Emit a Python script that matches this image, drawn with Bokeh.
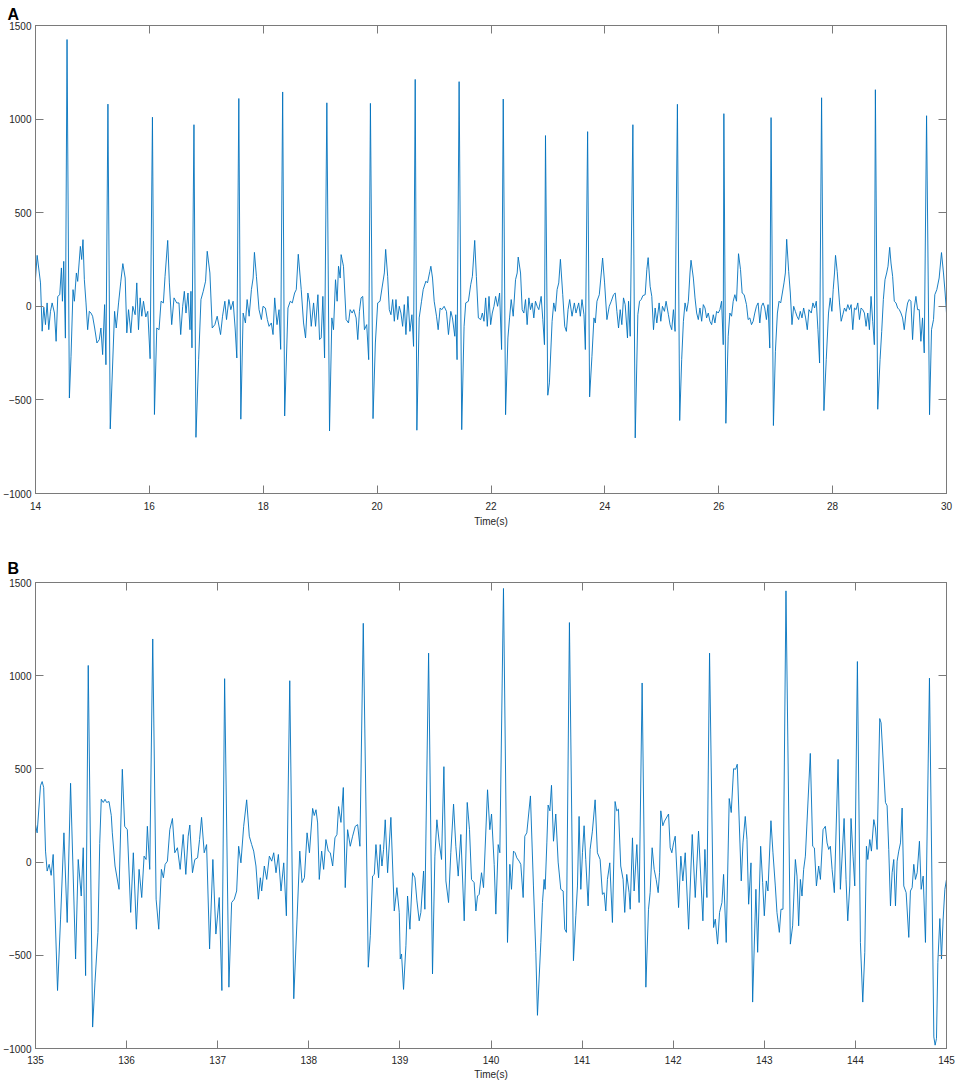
from bokeh.plotting import figure
from bokeh.models import LinearAxis, Range1d, FixedTicker, CustomLabelingPolicy
from bokeh.layouts import column
from bokeh.embed import file_html
from bokeh.resources import INLINE

# ---------------- Panel A data (time in s, amplitude) ----------------
time_a = [
    14.000, 14.029, 14.088, 14.117, 14.146, 14.175, 14.204, 14.233, 14.263, 14.292,
    14.333, 14.362, 14.391, 14.426, 14.455, 14.473, 14.496, 14.525, 14.554, 14.595,
    14.624, 14.659, 14.683, 14.718, 14.741, 14.788, 14.811, 14.834, 14.858, 14.887,
    14.916, 14.945, 14.974, 15.003, 15.039, 15.079, 15.120, 15.149, 15.179, 15.214,
    15.237, 15.272, 15.313, 15.389, 15.418, 15.459, 15.499, 15.534, 15.575, 15.604,
    15.634, 15.674, 15.709, 15.750, 15.779, 15.809, 15.838, 15.867, 15.896, 15.937,
    15.972, 16.013, 16.054, 16.089, 16.130, 16.170, 16.205, 16.246, 16.275, 16.322,
    16.351, 16.392, 16.433, 16.480, 16.520, 16.550, 16.585, 16.614, 16.643, 16.678,
    16.713, 16.730, 16.748, 16.783, 16.818, 16.865, 16.906, 16.946, 16.987, 17.016,
    17.063, 17.104, 17.150, 17.191, 17.250, 17.285, 17.326, 17.355, 17.396, 17.431,
    17.471, 17.506, 17.536, 17.571, 17.606, 17.647, 17.687, 17.717, 17.752, 17.792,
    17.822, 17.845, 17.880, 17.926, 17.967, 17.996, 18.037, 18.072, 18.102, 18.142,
    18.172, 18.201, 18.242, 18.277, 18.306, 18.341, 18.376, 18.434, 18.475, 18.510,
    18.551, 18.580, 18.615, 18.667, 18.708, 18.743, 18.784,
    18.814, 18.843, 18.884, 18.919, 18.960, 18.989, 19.018, 19.047, 19.077, 19.117,
    19.164, 19.205, 19.234, 19.269, 19.298, 19.322, 19.351, 19.368, 19.409, 19.456,
    19.497, 19.526, 19.561, 19.590, 19.631, 19.660, 19.689, 19.718, 19.747, 19.777,
    19.817, 19.852, 19.882, 19.928, 19.969, 20.010, 20.051, 20.086, 20.127, 20.150,
    20.185, 20.214, 20.243, 20.273, 20.302, 20.331, 20.360, 20.389, 20.418, 20.448,
    20.477, 20.506, 20.541, 20.576, 20.611, 20.640, 20.669, 20.698, 20.739, 20.780,
    20.809, 20.856, 20.885, 20.926, 20.944, 20.973, 21.002, 21.043, 21.072, 21.107,
    21.136, 21.177, 21.218, 21.253, 21.294, 21.323, 21.364, 21.381, 21.404, 21.440,
    21.486, 21.527, 21.556, 21.603, 21.644, 21.673, 21.714, 21.743, 21.778, 21.819,
    21.848, 21.877, 21.906, 21.935, 21.965, 21.994, 22.023, 22.052, 22.081, 22.116,
    22.151, 22.186, 22.215, 22.256, 22.297, 22.326, 22.355, 22.390, 22.431, 22.460,
    22.478, 22.519, 22.548, 22.577, 22.606, 22.635, 22.665, 22.694, 22.723, 22.752,
    22.781, 22.811, 22.840, 22.881, 22.910, 22.939, 22.957, 22.997, 23.026, 23.073,
    23.102, 23.131, 23.161, 23.190, 23.219, 23.260, 23.295, 23.324, 23.353, 23.382,
    23.423, 23.464, 23.493, 23.540, 23.569, 23.598, 23.633, 23.657, 23.697, 23.732,
    23.773, 23.808, 23.832, 23.861, 23.902, 23.937, 23.960, 23.995, 24.036, 24.077,
    24.112, 24.152, 24.182, 24.211, 24.240, 24.269, 24.298, 24.327, 24.357, 24.397,
    24.416, 24.445, 24.492, 24.533, 24.579, 24.609, 24.638, 24.667, 24.708, 24.737,
    24.760, 24.795, 24.824, 24.854, 24.883, 24.912, 24.953, 24.982, 25.011, 25.046,
    25.075, 25.116, 25.145, 25.174, 25.204, 25.233, 25.274, 25.314, 25.349, 25.379,
    25.408, 25.437, 25.466, 25.495, 25.513, 25.554, 25.583, 25.612, 25.641, 25.670,
    25.700, 25.729, 25.758, 25.787, 25.816, 25.845, 25.875, 25.904, 25.933, 25.962,
    25.991, 26.020, 26.050, 26.079, 26.090, 26.125, 26.166, 26.195, 26.225, 26.254,
    26.283, 26.312, 26.347, 26.382, 26.411, 26.446, 26.487, 26.516, 26.546, 26.575,
    26.604, 26.633, 26.662, 26.691, 26.721, 26.750, 26.779, 26.808, 26.837, 26.866,
    26.896, 26.919, 26.960, 26.995, 27.030, 27.059, 27.088, 27.117, 27.146, 27.170,
    27.193, 27.228, 27.257, 27.286, 27.316, 27.345, 27.374, 27.403, 27.432, 27.462,
    27.491, 27.526, 27.555, 27.584, 27.625, 27.654, 27.683, 27.713, 27.742, 27.771,
    27.806, 27.847, 27.888, 27.928, 27.958, 27.987, 28.010, 28.033, 28.051, 28.080,
    28.121, 28.150, 28.179, 28.208, 28.237, 28.267, 28.296, 28.325, 28.354, 28.383,
    28.413, 28.442, 28.471, 28.500, 28.529, 28.558, 28.588, 28.617, 28.646, 28.675,
    28.704, 28.733, 28.751, 28.792, 28.833, 28.862, 28.891, 28.920, 28.949, 28.973,
    29.002, 29.025, 29.054, 29.083, 29.113, 29.142, 29.171, 29.200, 29.229, 29.258,
    29.288, 29.317, 29.346, 29.375, 29.404, 29.434, 29.463, 29.492, 29.521, 29.550,
    29.579, 29.609, 29.650, 29.702, 29.737, 29.772, 29.795, 29.830, 29.871, 29.912,
    29.947, 29.976, 30.000,
]
value_a = [
    150, 272, 125, -133, -5, -98, 18, -125, -27, 18,
    -36, -187, 53, 62, 205, 27, 240, -170, 1425, -490,
    -267, 89, 27, 178, 133, 320, 250, 356, 142, 18,
    -125, -27, -36, -53, -116, -196, -178, -116, -258, 9,
    -312, 1080, -655, -27, -116, 18, 134, 228, 151, -142,
    -18, -142, 0, -45, 125, -125, 45, -53, 27, -57,
    -27, -280, 1010, -578, -116, -125, 27, 18, 160, 352,
    125, -98, 45, 18, 18, -151, 0, 80, -36, 71,
    -125, 80, -222, 970, -700, -285, 36, 80, 134, 294,
    178, -116, -98, -53, -151, -53, 27, -71, 36, -18,
    27, -116, -276, 1110, -603, -36, -89, 36, -53, 89,
    151, 288, 160, -18, -71, 0, -9, -71, -107, -89,
    -151, 45, -98, -18, -230, 1145, -586, -9, 27, 18,
    71, 89, 278, 89, -89, -169, 71,
    18, -107, 18, -107, 62, -178, -169, 53, -276, 1087,
    -666, -62, -125, 142, 27, 214, 151, 276, 214, -71,
    -89, -18, -36, -18, -62, -178, -27, 45, 53, -125,
    -98, -285, 1084, -600, -196, 18, 27, 98, 178, 304,
    160, -18, -45, 36, -80, 36, -71, 0, -36, -107,
    9, -151, 53, -134, -45, -214, 1212, -662, -62, 27,
    89, 134, 125, 187, 214, 151, 27, -53, -125, -9,
    -18, 0, -27, -151, -27, -62, -160, -45, -285, 1200,
    -659, -107, 18, 27, 116, 160, 352, 160, -62, -71,
    -36, -80, 45, -107, 53, -98, -36, 0, 53, 0,
    71, -231, 1107, -579, -169, -62, 36, -53, 142, 178,
    263, 178, -18, -36, 36, -98, 45, -18, 18, -62,
    27, 0, -18, 53, -71, -205, 912, -475, -409, -80,
    18, -27, 89, 125, 251, 62, -107, -134, -18, 36,
    -53, 18, -36, 18, -53, 36, -45, -231, 933, -484,
    -267, -62, -89, 27, 62, 178, 258, 125, -71, 0,
    27, 62, 71, -27, -116, -18, -98, 45, 9, -169,
    27, -160, 970, -703, -45, 27, 36, 57, 62, 196,
    260, 107, 53, -125, -9, -89, 18, -80, 0, -27,
    27, -45, -98, -125, -18, -134, 1079, -610, -285, -80,
    18, -27, 27, 178, 246, 151, 45, -36, -71, -9,
    -80, 9, -9, -62, -36, -80, -98, -45, -89, -27,
    -36, -18, 27, -205, 1029, -625, -160, -36, -53, 27,
    62, 27, 281, 196, 71, 62, 9, -71, -62, -98,
    -80, -36, 0, 18, -89, 0, 18, -9, -71, 9,
    -223, 1008, -637, -240, -36, 27, 18, 71, 125, 178,
    358, 187, 71, -98, 0, -27, -53, -71, -27, -62,
    -9, -62, -125, -18, -36, 18, -9, 27, -125, -303,
    1114, -557, -285, -36, 45, -27, 89, 178, 272, 187,
    18, -80, -45, -9, -27, 9, -18, 9, -125, -9,
    -18, 18, -71, -9, -18, -36, -107, -36, -125, 53,
    -80, -205, 1157, -550, -285, -134, 36, 142, 178, 214,
    315, 231, 160, 27, 18, -9, -18, -36, -62, -125,
    -36, 18, 36, 27, -178, -9, 53, -18, -18, -187,
    -62, -249, 1018, -579, -125, -71, 62, 89, 151, 287,
    178, 71, -36,
]

# ---------------- Panel B data (time in s, amplitude) ----------------
time_b = [
    135.000, 135.018, 135.055, 135.073, 135.090, 135.110, 135.128, 135.150, 135.172, 135.194,
    135.242, 135.275, 135.312, 135.348, 135.385, 135.440, 135.469, 135.502, 135.524, 135.550,
    135.579, 135.627, 135.653, 135.686, 135.705, 135.722, 135.744, 135.763, 135.781, 135.807,
    135.832, 135.843, 135.873, 135.917, 135.953, 135.979, 136.008, 136.045, 136.074, 136.107,
    136.137, 136.166, 136.192, 136.214, 136.228, 136.254, 136.287, 136.324, 136.353, 136.382,
    136.404, 136.423, 136.448, 136.474, 136.503, 136.529, 136.558, 136.588, 136.621, 136.650,
    136.676, 136.694, 136.723, 136.749, 136.779, 136.801, 136.823, 136.852, 136.878, 136.911,
    136.947, 136.980, 137.017, 137.046, 137.076, 137.123, 137.153, 137.182, 137.208, 137.230,
    137.255, 137.285, 137.318, 137.347, 137.373, 137.395, 137.420, 137.446, 137.468, 137.483,
    137.512, 137.538, 137.567, 137.593, 137.615, 137.640, 137.666, 137.695, 137.725, 137.754,
    137.791, 137.835, 137.871, 137.901, 137.926, 137.952, 137.981, 138.007,
    138.042, 138.060, 138.079, 138.097, 138.115, 138.141, 138.163, 138.188, 138.214, 138.236,
    138.262, 138.287, 138.309, 138.327, 138.353, 138.379, 138.400, 138.426, 138.455, 138.481,
    138.510, 138.536, 138.561, 138.598, 138.653, 138.675, 138.700, 138.719, 138.737, 138.766,
    138.784, 138.803, 138.821, 138.839, 138.865, 138.901, 138.938, 138.967, 138.993, 139.004,
    139.018, 139.040, 139.066, 139.084, 139.110, 139.139, 139.165, 139.187, 139.212, 139.230,
    139.260, 139.274, 139.315, 139.358, 139.384, 139.406, 139.432, 139.457, 139.483, 139.505,
    139.534, 139.559, 139.589, 139.614, 139.640, 139.669, 139.706, 139.739, 139.764, 139.786,
    139.815, 139.834, 139.852, 139.870, 139.896, 139.918, 139.962, 139.987, 140.006, 140.035,
    140.053, 140.079, 140.097, 140.137, 140.181, 140.207, 140.225, 140.247, 140.265, 140.283,
    140.309, 140.327, 140.353, 140.371, 140.393, 140.433, 140.466, 140.492, 140.510, 140.528,
    140.547, 140.565, 140.583, 140.594, 140.613, 140.627, 140.646, 140.664, 140.686, 140.711,
    140.737, 140.766, 140.792, 140.810, 140.828, 140.861, 140.905, 140.931, 140.949, 140.967,
    140.986, 141.004, 141.022, 141.040, 141.066, 141.088, 141.113, 141.143, 141.168, 141.198,
    141.223, 141.242, 141.260, 141.278, 141.304, 141.333, 141.362, 141.380, 141.399, 141.424,
    141.450, 141.468, 141.490, 141.516,
    141.528, 141.553, 141.571, 141.601, 141.626, 141.659, 141.700, 141.729, 141.747, 141.769,
    141.791, 141.813, 141.835, 141.850, 141.864, 141.886, 141.905, 141.949, 141.967, 141.985,
    142.004, 142.022, 142.059, 142.084, 142.106, 142.132, 142.169, 142.209, 142.242, 142.278,
    142.326, 142.348, 142.370, 142.399, 142.443, 142.462, 142.487, 142.509, 142.535, 142.553,
    142.582, 142.615, 142.637, 142.663, 142.685, 142.703, 142.747, 142.766, 142.791, 142.810,
    142.828, 142.854, 142.872, 142.908, 142.927, 142.960, 142.982, 143.000, 143.022, 143.040,
    143.073, 143.095, 143.121, 143.139, 143.165, 143.183, 143.205, 143.238, 143.286, 143.311,
    143.341, 143.359, 143.377, 143.396, 143.414, 143.432, 143.451, 143.505, 143.531, 143.550,
    143.572, 143.597, 143.616, 143.645, 143.670, 143.689, 143.707, 143.725, 143.744, 143.769,
    143.810, 143.835, 143.876, 143.897, 143.916, 143.938, 143.952, 143.974, 143.993, 144.022,
    144.055, 144.081, 144.103, 144.121, 144.136, 144.158, 144.176, 144.202, 144.220, 144.238,
    144.267, 144.282, 144.330, 144.348, 144.366, 144.385, 144.403, 144.421, 144.440, 144.458,
    144.476, 144.495, 144.513, 144.531, 144.557, 144.586, 144.604, 144.623, 144.641, 144.659,
    144.678, 144.703, 144.722, 144.744, 144.769, 144.813, 144.861, 144.875, 144.890, 144.905,
    144.927, 144.945, 144.963, 144.982, 145.000,
]
value_b = [
    201, 157, 410, 432, 400, 59, -48, -12, -71, 41,
    -689, -306, 157, -324, 423, -520, 14, -182, 77, -609,
    1055, -885, -644, -377, 100, 337, 320, 337, 320, 325,
    250, 157, -21, -146, 498, 192, 174, -270, 50, -360,
    -39, -190, 32, 14, 192, -39, 1197, -199, -360, -39,
    -84, -12, 5, 174, 234, 50, 77, -39, 148, -66,
    139, 199, -57, 14, 23, 121, 240, 50, 94, -466,
    14, -386, -190, -689, 984, -671, -217, -199, -155, 85,
    -4, 192, 334, 139, 94, 59, -21, -199, -84, -155,
    -21, -93, 32, 5, 50, -57, 41, -155, -4, -288,
    973, -733, -306, 59, -110, -84, 157, 50,
    288, 250, 281, 210, -93, 59, -39, 121, 59, 50,
    -21, 130, 148, 298, 213, 400, -137, 174, 85, 139,
    192, 201, 85, 1281, -564, -395, -75, -66, 94, -84,
    94, -21, 68, 227, -57, 240, -262, -137, -270, -520,
    -493, -683, -449, -182, -360, -57, -84, -208, -315, -270,
    -48, -253, 1121, -600, 32, 227, 103, 14, 512, -101,
    -217, 50, 311, 85, -75, 148, -315, 320, 174, -93,
    -110, -262, -182, -173, -57, -137, 388, 174, 258, -12,
    -279, 94, 50, 1468, -431, -12, -146, 59, 50, 23,
    5, -12, -190, 139, 157, 355, -128, -484, -822, -627,
    -431, -217, -93, -146, 103, 306, 275, 412, 112, 258,
    0, -146, -155, -360, -377, 1285, -529, -288, -128, 245,
    -146, 50, 195, 14, -235, 68, 166, 334, 50, 14,
    -173, -164, -262, -93, -4, -324, 325, 275, 284, -21,
    -93, -270, -66, -164,
    -253, 130, -155, 94, -217, 961, -671, -253, -164, 77,
    -39, -93, -164, -57, 275, 195, 220, 258, 77, 50,
    103, 139, -244, 32, -101, 50, -360, 148, -190, 166,
    -315, 68, -190, 1121, -351, -306, -440, -270, -217, -66,
    -431, 341, 266, 501, 498, 525, -101, 103, 245, 121,
    -226, -4, -751, -146, -484, 85, -110, -288, -101, -155,
    222, 50, -128, -270, -377, -253, -253, 1455, -440, -342,
    14, -75, -342, -93, -182, -39, 32, 583, 85, 76,
    -128, -21, -93, 174, 192, 103, 68, 85, -39, -164,
    551, -146, 234, -93, -315, -128, 234, 32, -128, 1076,
    -431, -751, -484, 85, 14, 121, 59, 228, 183, 68,
    770, 747, 320, 302, 68, -235, -57, 14, -235, 5,
    59, 103, 290, -128, -164, -404, -155, -137, -12, -93,
    -57, 112, -146, -75, -431, 987, -938, -982, -947, -538,
    -303, -520, -306, -146, -93,
]

y_ticks = [-1000, -500, 0, 500, 1000, 1500]
x_ticks_a = [14, 16, 18, 20, 22, 24, 26, 28, 30]
x_ticks_b = [135, 136, 137, 138, 139, 140, 141, 142, 143, 144, 145]

FONT = "Liberation Sans"
AXC = "#7a7a7a"
TXT = "#262626"
LINE = "#0072BD"


def style_axis(ax, ticks, show_labels):
    ax.ticker = FixedTicker(ticks=ticks)
    ax.axis_line_color = AXC
    ax.axis_line_width = 1
    ax.major_tick_line_color = AXC
    ax.major_tick_in = 8
    ax.major_tick_out = 0
    ax.minor_tick_line_color = None
    ax.major_label_text_font = FONT
    ax.major_label_text_color = TXT
    if show_labels:
        ax.major_label_text_font_size = "10px"
        ax.major_label_standoff = 4
    else:
        # tick marks only (MATLAB box style), no labels drawn
        ax.major_label_text_font_size = "0px"
        ax.major_label_standoff = 0
        ax.major_label_policy = CustomLabelingPolicy(code="return []")


def make_panel(label, t, v, xr, xticks, width, height, top, bottom, right,
               xlab_standoff, xtitle_standoff, title_standoff):
    p = figure(width=width, height=height,
               x_range=Range1d(*xr), y_range=Range1d(-1000, 1500),
               output_backend="svg", toolbar_location=None,
               min_border_left=28, min_border_right=right,
               min_border_top=top, min_border_bottom=bottom,
               background_fill_color="white", border_fill_color="white")
    p.outline_line_color = AXC
    p.grid.visible = False
    p.line(t, v, line_color=LINE, line_width=0.9)

    style_axis(p.xaxis[0], xticks, True)
    style_axis(p.yaxis[0], y_ticks, True)
    p.yaxis[0].major_label_standoff = 4
    p.xaxis[0].major_label_standoff = xlab_standoff
    p.xaxis[0].axis_label = "Time(s)"
    p.xaxis[0].axis_label_text_font = FONT
    p.xaxis[0].axis_label_text_font_size = "10px"
    p.xaxis[0].axis_label_text_font_style = "normal"
    p.xaxis[0].axis_label_text_color = TXT
    p.xaxis[0].axis_label_standoff = xtitle_standoff

    top_ax = LinearAxis()
    style_axis(top_ax, xticks, False)
    p.add_layout(top_ax, "above")
    right_ax = LinearAxis()
    style_axis(right_ax, y_ticks, False)
    p.add_layout(right_ax, "right")

    # panel letter as the figure title, pushed left to the page edge
    p.title.text = label
    p.title.text_font = FONT
    p.title.text_font_size = "16px"
    p.title.text_font_style = "bold"
    p.title.text_color = "black"
    p.title.align = "left"
    p.title.offset = -28
    p.title.standoff = title_standoff
    return p


pa = make_panel("A", time_a, value_a, (14, 30), x_ticks_a, 957, 540, 25, 47, 8, 8, 3, 5)
pb = make_panel("B", time_b, value_b, (135, 145), x_ticks_b, 957, 542, 42, 34, 11, 7, 2, 11)

layout = column(pa, pb, spacing=0)
open("out.html", "w").write(file_html(layout, INLINE))
